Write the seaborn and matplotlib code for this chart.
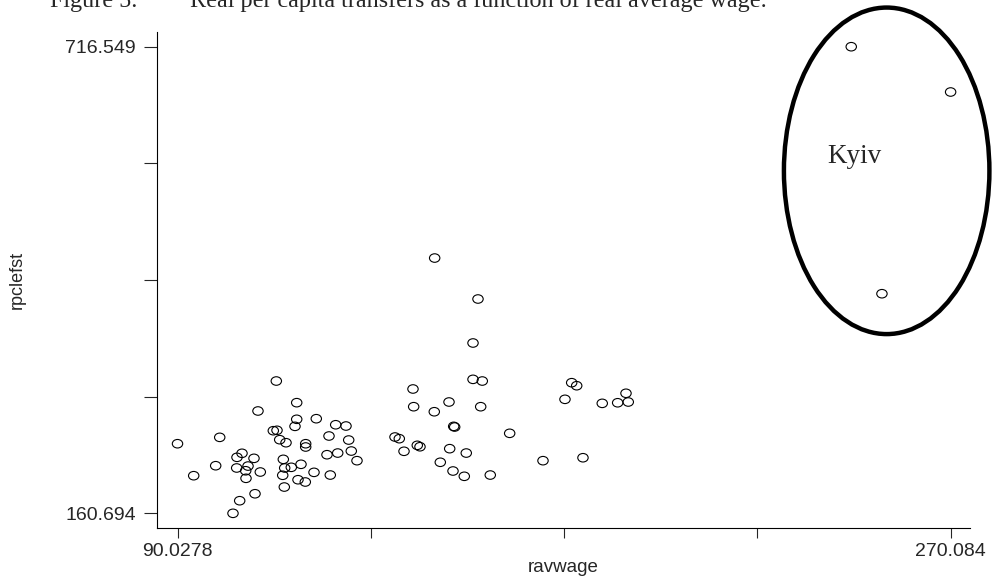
import numpy as np
import pandas as pd
import matplotlib
matplotlib.use("Agg")
import matplotlib.pyplot as plt
import seaborn as sns
from matplotlib.patches import Ellipse
from matplotlib.path import Path
from matplotlib.transforms import Affine2D

# real average wage (x) and real per capita transfers (y) per region
ravwage = [90.0278, 93.80, 98.92, 99.86, 102.95, 104.51, 108.08, 108.77, 113.04,
           103.88, 105.05, 107.84, 103.81, 106.45, 105.91, 105.98, 109.31, 112.34,
           113.20, 117.79, 117.79, 117.39, 122.35, 113.83, 115.30, 119.88, 119.88,
           114.67, 114.99, 116.53, 118.79, 114.53, 114.90, 118.09, 119.79, 121.82,
           125.61, 124.84, 127.34, 125.31, 126.87, 129.27, 129.90, 130.50, 131.83,
           140.68, 141.68, 149.92, 160.01, 158.85, 158.85, 161.01, 144.87, 145.03,
           149.83, 153.26, 160.64, 154.35, 154.58, 167.39, 142.78, 145.87, 146.50,
           153.42, 157.28, 151.23, 154.19, 156.82, 162.87, 175.15, 184.46, 180.27,
           181.83, 183.00, 188.95, 192.54, 194.48, 195.01,
           246.94, 270.084, 254.09]
rpclefst = [243.6, 205.5, 217.4, 251.2, 160.694, 175.7, 184.0, 282.6, 318.3,
            227.4, 232.2, 226.2, 214.7, 217.0, 211.4, 202.4, 209.9, 259.1,
            259.6, 292.5, 272.7, 264.3, 273.4, 248.4, 244.8, 243.6, 239.7,
            225.0, 214.7, 215.5, 219.1, 206.0, 192.0, 200.7, 198.0, 209.5,
            206.3, 230.5, 232.5, 252.8, 266.2, 264.7, 248.0, 234.9, 223.4,
            251.6, 249.6, 464.8, 416.0, 363.6, 320.3, 318.3, 308.8, 287.7,
            281.7, 293.3, 287.7, 264.3, 263.5, 256.0, 234.6, 241.7, 240.0,
            237.7, 232.5, 221.5, 211.1, 204.8, 206.3, 223.4, 226.9, 296.5,
            316.3, 312.7, 291.7, 292.4, 303.7, 293.3,
            716.549, 662.6, 422.3]

x_ticks = np.linspace(90.0278, 270.084, 5)
x_labels = ["90.0278", "", "", "", "270.084"]
y_ticks = np.linspace(160.694, 716.549, 5)
y_labels = ["160.694", "", "", "", "716.549"]

df = pd.DataFrame({"ravwage": ravwage, "rpclefst": rpclefst})

sns.set_style("ticks")
plt.rcParams["font.family"] = ["Liberation Sans", "DejaVu Sans"]
serif = ["Liberation Serif", "DejaVu Serif"]

fig = plt.figure(figsize=(9.93, 5.8), dpi=100)
ax = fig.add_axes([0.1584, 0.0891, 0.9768 - 0.1584, 0.9448 - 0.0891])

# slightly wide hollow circles like the original
oval = Path.unit_circle().transformed(Affine2D().scale(1.22, 1.0))
sns.scatterplot(data=df, x="ravwage", y="rpclefst", marker=oval, s=56,
                facecolors="none", edgecolor="black", linewidth=0.8, ax=ax)

ax.set_xlim(85.32, 274.59)
ax.set_ylim(142.82, 734.06)
ax.set_xticks(x_ticks)
ax.set_xticklabels(x_labels)
ax.set_yticks(y_ticks)
ax.set_yticklabels(y_labels)
ax.tick_params(axis="x", length=7.5, width=0.8, pad=3, labelsize=14)
ax.tick_params(axis="y", length=9.5, width=0.8, pad=6, labelsize=14)
ax.set_xlabel("ravwage", fontsize=13.5, labelpad=-1)
ax.set_ylabel("rpclefst", fontsize=13, labelpad=28)
sns.despine(ax=ax)
for s in ["left", "bottom"]:
    ax.spines[s].set_linewidth(0.8)
    ax.spines[s].set_color("black")

# Kyiv outlier ring
ax.add_patch(Ellipse((255.19, 568.7), 47.86, 389.0, fill=False,
                     edgecolor="black", linewidth=3.2, clip_on=False))
ax.text(247.57, 578.0, "Kyiv", ha="center", va="baseline", fontsize=19.5,
        family=serif)

# caption sits partly above the image edge, as in the source scan
fig.text(50 / 993, 1 - 7.3 / 580, "Figure 5.", fontsize=17.4, va="baseline",
         family=serif)
fig.text(190 / 993, 1 - 7.3 / 580,
         "Real per capita transfers as a function of real average wage.",
         fontsize=17.4, va="baseline", family=serif)

fig.savefig("out.png", dpi=100)
